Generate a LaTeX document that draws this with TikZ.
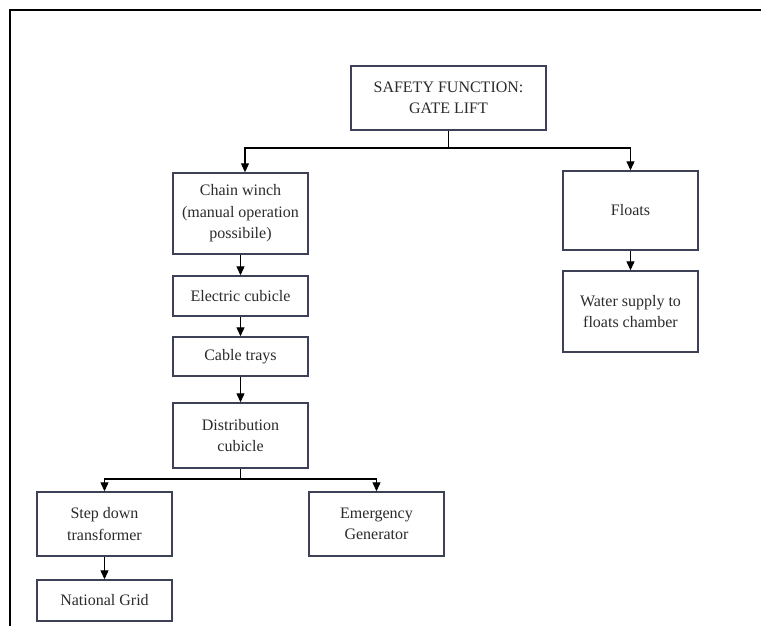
\documentclass[tikz,border=0pt]{standalone}
\usepackage{fontspec}
\setmainfont{Liberation Serif}
\usetikzlibrary{arrows.meta}

\definecolor{boxline}{HTML}{3E4156}
\definecolor{textgray}{HTML}{2B2B2B}

\tikzset{
  blk/.style={draw=boxline, line width=1.4pt, rectangle, align=center,
    text=textgray, inner sep=2pt,
    font=\fontsize{16}{21.5}\selectfont},
  link/.style={draw=black, line width=1.1pt},
  arr/.style={link, -{Triangle[width=8pt,length=9pt]}},
}

\begin{document}
\begin{tikzpicture}[x=1pt, y=-1pt]
  \useasboundingbox (0,0) rectangle (761,625);
  \clip (0,0) rectangle (761,625);
  \fill[white] (0,0) rectangle (761,625);

  % outer frame (runs off the right and bottom edges)
  \draw[line width=2pt] (10,640) -- (10,10) -- (780,10);

  % top-level function
  \node[blk, minimum width=195, minimum height=64] (safety) at (448.5,98)
    {SAFETY FUNCTION:\\GATE LIFT};

  % left branch: electrical chain
  \node[blk, minimum width=135, minimum height=81] (chain) at (240.5,213.5)
    {Chain winch\\(manual operation\\possibile)};
  \node[blk, minimum width=135, minimum height=40] (elec) at (240.5,296)
    {Electric cubicle};
  \node[blk, minimum width=135, minimum height=39] (trays) at (240.5,356.5)
    {Cable trays};
  \node[blk, minimum width=135, minimum height=65] (distr) at (240.5,435.5)
    {Distribution\\cubicle};
  \node[blk, minimum width=135, minimum height=64] (stepdn) at (104.5,524)
    {Step down\\transformer};
  \node[blk, minimum width=135, minimum height=64] (emgen) at (376.5,524)
    {Emergency\\Generator};
  \node[blk, minimum width=135, minimum height=41] (grid) at (104.5,600.5)
    {National Grid};

  % right branch: floats
  \node[blk, minimum width=135, minimum height=79] (floats) at (630.5,210.5)
    {Floats};
  \node[blk, minimum width=135, minimum height=81] (water) at (630.5,311.5)
    {Water supply to\\floats chamber};

  % connectors
  \coordinate (forkA) at (448.5,148);
  \draw[link] (safety.south) -- (forkA);
  \draw[arr] (forkA) -| ([xshift=4.5pt]chain.north);
  \draw[arr] (forkA) -| (floats.north);

  \draw[arr] (chain.south) -- (elec.north);
  \draw[arr] (elec.south) -- (trays.north);
  \draw[arr] (trays.south) -- (distr.north);

  \coordinate (forkB) at (240.5,479);
  \draw[link] (distr.south) -- (forkB);
  \draw[arr] (forkB) -| (stepdn.north);
  \draw[arr] (forkB) -| (emgen.north);

  \draw[arr] (stepdn.south) -- (grid.north);
  \draw[arr] (floats.south) -- (water.north);
\end{tikzpicture}
\end{document}
